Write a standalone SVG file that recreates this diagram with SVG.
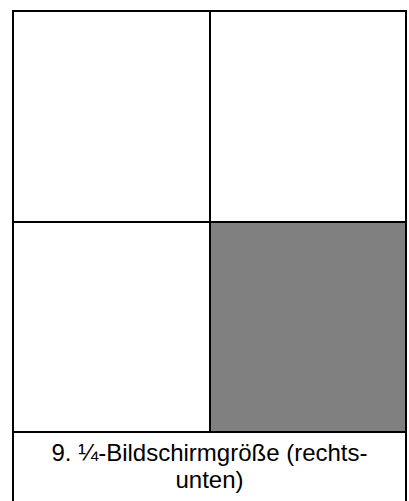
<svg xmlns="http://www.w3.org/2000/svg" width="409" height="501" viewBox="0 0 409 501">
<style>
.ln{stroke:#000;stroke-width:2;fill:none}
.lbl{font-family:"Liberation Sans",Arial,sans-serif;font-size:24px;fill:#000;text-anchor:middle}
</style>
<rect x="0" y="0" width="409" height="501" fill="#fff"/>
<g id="cell-br"><rect x="210" y="222" width="196" height="210" fill="#808080"/></g>
<g id="lines">
<path class="ln" d="M13 502V11H406V502"/>
<path class="ln" d="M210 11V432"/>
<path class="ln" d="M13 222H406"/>
<path class="ln" d="M13 432H406"/>
</g>
<g id="caption">
<text class="lbl" x="209.5" y="461">9. ¼-Bildschirmgröße (rechts-</text>
<text class="lbl" x="209.5" y="488">unten)</text>
</g>
</svg>
